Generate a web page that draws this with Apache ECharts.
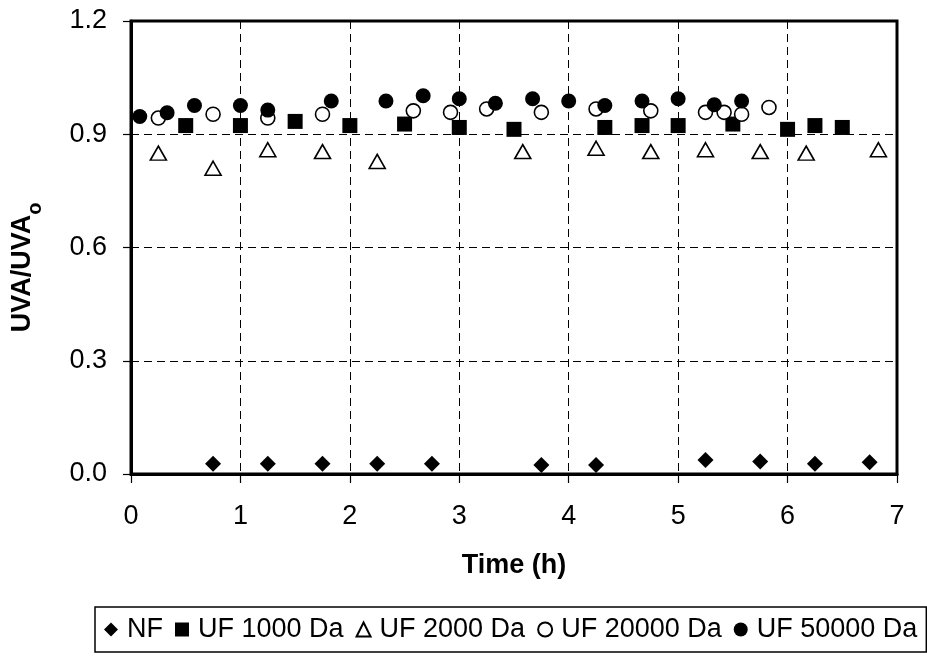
<!DOCTYPE html>
<html>
<head>
<meta charset="utf-8">
<script src="https://cdn.jsdelivr.net/npm/echarts@6/dist/echarts.min.js"></script>
<style>
html, body { margin: 0; padding: 0; background: #fff; }
#chart { width: 927px; height: 656px; }
</style>
</head>
<body>
<div id="chart"></div>
<script>
// time (h) and UVA/UVAo
const nfTime = [0.75, 1.25, 1.75, 2.25, 2.75, 3.75, 4.25, 5.25, 5.75, 6.25, 6.75];
const nfValue = [0.027, 0.027, 0.027, 0.027, 0.027, 0.024, 0.024, 0.037, 0.033, 0.027, 0.031];

const uf1000Time = [0.5, 1.0, 1.5, 2.0, 2.5, 3.0, 3.5, 4.33, 4.67, 5.0, 5.5, 6.0, 6.25, 6.5];
const uf1000Value = [0.923, 0.923, 0.934, 0.923, 0.927, 0.918, 0.913, 0.918, 0.923, 0.923, 0.927, 0.913, 0.923, 0.918];

const uf2000Time = [0.25, 0.75, 1.25, 1.75, 2.25, 3.58, 4.25, 4.75, 5.25, 5.75, 6.17, 6.83];
const uf2000Value = [0.85, 0.81, 0.859, 0.854, 0.828, 0.854, 0.863, 0.854, 0.859, 0.854, 0.85, 0.859];

const uf20000Time = [0.25, 0.75, 1.25, 1.75, 2.58, 2.92, 3.25, 3.75, 4.25, 4.75, 5.25, 5.42, 5.58, 5.83];
const uf20000Value = [0.943, 0.953, 0.943, 0.953, 0.962, 0.958, 0.967, 0.958, 0.967, 0.962, 0.958, 0.958, 0.953, 0.971];

const uf50000Time = [0.08, 0.33, 0.58, 1.0, 1.25, 1.83, 2.33, 2.67, 3.0, 3.33, 3.67, 4.0, 4.33, 4.67, 5.0, 5.33, 5.58];
const uf50000Value = [0.947, 0.957, 0.976, 0.976, 0.964, 0.988, 0.988, 1.002, 0.994, 0.982, 0.994, 0.988, 0.976, 0.988, 0.994, 0.978, 0.988];

const seriesNames = ['NF', 'UF 1000 Da', 'UF 2000 Da', 'UF 20000 Da', 'UF 50000 Da'];

const font = 'Liberation Sans, Arial, sans-serif';

function pairs(xs, ys) {
  return xs.map((x, i) => [x, ys[i]]);
}

const filled = { color: '#000', opacity: 1 };
const hollow = { color: '#fff', borderColor: '#000', borderWidth: 1.6, opacity: 1 };

const option = {
  backgroundColor: '#fff',
  animation: false,
  textStyle: { fontFamily: font },
  grid: {
    left: 131, right: 30, top: 21, bottom: 182,
    show: true, borderColor: '#000', borderWidth: 3
  },
  xAxis: {
    type: 'value',
    min: 0, max: 7, interval: 1,
    name: 'Time (h)',
    nameLocation: 'middle',
    nameGap: 78,
    nameTextStyle: { fontSize: 27, fontWeight: 'bold', color: '#000', fontFamily: font },
    axisLine: { show: true, lineStyle: { color: '#000', width: 3 } },
    axisTick: { show: true, inside: false, length: 9, lineStyle: { color: '#000', width: 1.2 } },
    axisLabel: { fontSize: 27, color: '#000', margin: 29, fontFamily: font },
    splitLine: { show: true, lineStyle: { color: '#000', width: 1, type: [8, 5] } }
  },
  yAxis: {
    type: 'value',
    min: 0, max: 1.2, interval: 0.3,
    name: '{a|UVA/UVA}{s|o}',
    nameLocation: 'middle',
    nameGap: 90,
    nameRotate: 90,
    nameTextStyle: {
      color: '#000',
      rich: {
        a: { fontSize: 27, fontWeight: 'bold', fontFamily: font, lineHeight: 32, verticalAlign: 'top' },
        // extra right padding nudges the whole title down the axis
        s: { fontSize: 20, fontWeight: 'bold', fontFamily: font, lineHeight: 20, padding: [16, 40, 0, 0], verticalAlign: 'top' }
      }
    },
    axisLine: { show: true, lineStyle: { color: '#000', width: 3 } },
    axisTick: { show: true, inside: false, length: 8, lineStyle: { color: '#000', width: 1.2 } },
    axisLabel: {
      fontSize: 27, color: '#000', margin: 24, fontFamily: font,
      formatter: v => v.toFixed(1)
    },
    splitLine: { show: true, lineStyle: { color: '#000', width: 1, type: [8, 5] } }
  },
  legend: {
    data: seriesNames,
    left: 95, top: 607,
    orient: 'horizontal',
    backgroundColor: '#fff',
    borderColor: '#000', borderWidth: 1.5,
    padding: [9, 9, 9, 9],
    itemWidth: 14, itemHeight: 14, itemGap: 12,
    textStyle: { fontSize: 27, color: '#000', fontFamily: font, padding: [0, 0, 0, 4] }
  },
  series: [
    {
      name: seriesNames[0], type: 'scatter', symbol: 'diamond', symbolSize: 16,
      itemStyle: filled, data: pairs(nfTime, nfValue)
    },
    {
      name: seriesNames[1], type: 'scatter', symbol: 'rect', symbolSize: 15,
      itemStyle: filled, data: pairs(uf1000Time, uf1000Value)
    },
    {
      name: seriesNames[2], type: 'scatter', symbol: 'triangle', symbolSize: [16, 14],
      itemStyle: hollow, data: pairs(uf2000Time, uf2000Value)
    },
    {
      name: seriesNames[3], type: 'scatter', symbol: 'circle', symbolSize: 14,
      itemStyle: hollow, data: pairs(uf20000Time, uf20000Value)
    },
    {
      name: seriesNames[4], type: 'scatter', symbol: 'circle', symbolSize: 15,
      itemStyle: filled, data: pairs(uf50000Time, uf50000Value)
    }
  ]
};

const chart = echarts.init(document.getElementById('chart'), null, { renderer: 'canvas' });
chart.setOption(option);
</script>
</body>
</html>
